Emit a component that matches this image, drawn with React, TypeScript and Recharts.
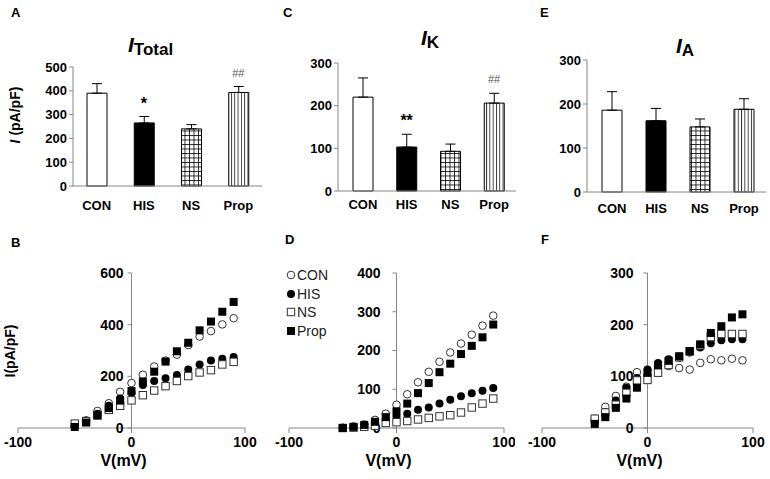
import React from 'react'
import {
  BarChart, Bar, XAxis, YAxis, ErrorBar, Cell, ReferenceDot,
  ScatterChart, Scatter, ReferenceLine, Legend,
} from 'recharts'

const FONT = '"Liberation Sans", Arial, sans-serif'
const AXIS = '#868686'

// bar panels (A, C, E)
const groups = ['CON', 'HIS', 'NS', 'Prop']
const totalMean = [390, 265, 240, 393]
const totalSem = [40, 27, 18, 25]
const totalSig = ['', '*', '', '##']
const kMean = [220, 103, 93, 206]
const kSem = [45, 30, 17, 23]
const kSig = ['', '**', '', '##']
const aMean = [186, 162, 148, 188]
const aSem = [42, 28, 18, 24]
const aSig = ['', '', '', '']

// I-V panels (B, D, F)
const voltage = [-50, -40, -30, -20, -10, 0, 10, 20, 30, 40, 50, 60, 70, 80, 90]
const bCon = [10, 30, 66, 96, 140, 174, 206, 238, 261, 284, 321, 354, 375, 401, 425]
const bHis = [7, 26, 55, 86, 114, 136, 166, 182, 193, 205, 226, 246, 261, 268, 275]
const bNs = [17, 26, 48, 70, 86, 107, 127, 145, 162, 182, 201, 215, 224, 246, 256]
const bProp = [4, 21, 50, 77, 106, 143, 180, 218, 257, 297, 330, 378, 412, 450, 488]
const dCon = [1, 4, 9, 21, 37, 60, 87, 118, 145, 171, 195, 218, 241, 264, 290]
const dHis = [0, 2, 6, 14, 24, 30, 37, 47, 53, 63, 73, 82, 90, 96, 103]
const dNs = [0, 1, 3, 6, 13, 15, 18, 22, 26, 30, 33, 40, 53, 63, 76]
const dProp = [0, 3, 8, 16, 28, 43, 63, 90, 116, 144, 166, 191, 212, 234, 267]
const fCon = [18, 41, 62, 80, 108, 103, 120, 120, 116, 113, 126, 133, 131, 134, 131]
const fHis = [10, 31, 53, 78, 97, 113, 126, 133, 136, 146, 156, 164, 170, 172, 172]
const fNs = [18, 30, 45, 68, 92, 93, 107, 122, 137, 148, 160, 176, 182, 182, 182]
const fProp = [8, 21, 39, 57, 78, 107, 122, 130, 139, 149, 162, 184, 197, 214, 220]

const markerKinds = ['circleOpen', 'circle', 'squareOpen', 'square']

function Marker({ cx, cy, kind }: { cx: number; cy: number; kind: string }) {
  if (kind === 'circleOpen') return <circle cx={cx} cy={cy} r={3.8} fill="#fff" stroke="#333" strokeWidth={1} />
  if (kind === 'circle') return <circle cx={cx} cy={cy} r={4} fill="#000" />
  if (kind === 'squareOpen') return <rect x={cx - 3.7} y={cy - 3.7} width={7.4} height={7.4} fill="#fff" stroke="#333" strokeWidth={1} />
  return <rect x={cx - 4} y={cy - 4} width={8} height={8} fill="#000" />
}

type BarProps = {
  id: string
  mean: number[]
  sem: number[]
  sig: string[]
  max: number
  ticks: number[]
  width: number
  yWidth: number
  top: number
  xHeight: number
  padLeft: number
  tickMargin: number
}

function BarPanel({ id, mean, sem, sig, max, ticks, width, yWidth, top, xHeight, padLeft, tickMargin }: BarProps) {
  const data = groups.map((g, i) => ({ g, mean: mean[i], err: [0, sem[i]], top: mean[i] + sem[i], sig: sig[i] }))
  const fills = ['#fff', '#000', `url(#${id}-grid)`, `url(#${id}-vert)`]
  return (
    <BarChart width={width} height={230} data={data} margin={{ top, right: 4, left: 0, bottom: 0 }}>
      <defs>
        <pattern id={`${id}-grid`} width={4.5} height={4.5} patternUnits="userSpaceOnUse">
          <rect width={4.5} height={4.5} fill="#fff" />
          <path d="M0 0.5H4.5M0.5 0V4.5" stroke="#000" strokeWidth={0.8} />
        </pattern>
        <pattern id={`${id}-vert`} width={3.3} height={10} patternUnits="userSpaceOnUse">
          <rect width={3.3} height={10} fill="#fff" />
          <path d="M0.5 0V10" stroke="#000" strokeWidth={0.8} />
        </pattern>
      </defs>
      <XAxis
        dataKey="g"
        tickLine={false}
        axisLine={{ stroke: AXIS }}
        height={xHeight}
        padding={{ left: padLeft, right: 0 }}
        tickMargin={tickMargin}
        tick={{ fill: '#000', fontSize: 13, fontWeight: 'bold', fontFamily: FONT }}
      />
      <YAxis
        domain={[0, max]}
        ticks={ticks}
        interval={0}
        width={yWidth}
        tickSize={4}
        axisLine={{ stroke: AXIS }}
        tickLine={{ stroke: AXIS }}
        tick={{ fill: '#000', fontSize: 13, fontWeight: 'bold', fontFamily: FONT }}
      />
      <Bar dataKey="mean" barSize={20} stroke="#000" strokeWidth={1} isAnimationActive={false}>
        {data.map((d, i) => (
          <Cell key={d.g} fill={fills[i]} />
        ))}
        <ErrorBar dataKey="err" width={5} stroke="#000" strokeWidth={1} isAnimationActive={false} />
      </Bar>
      {data
        .filter((d) => d.sig)
        .map((d) => (
          <ReferenceDot
            key={d.g}
            x={d.g}
            y={d.top}
            r={0}
            shape={(p: any) =>
              d.sig.startsWith('#') ? (
                <text x={p.cx} y={p.cy - 10} textAnchor="middle" fontSize={11} fill="#555" fontFamily={FONT}>
                  {d.sig}
                </text>
              ) : (
                <text x={p.cx} y={p.cy - 8} textAnchor="middle" fontSize={16} fontWeight="bold" fill="#000" fontFamily={FONT}>
                  {d.sig}
                </text>
              )
            }
          />
        ))}
    </BarChart>
  )
}

type IVProps = {
  series: number[][]
  yMax: number
  yTicks: number[]
  width: number
  left: number
  right: number
  gap: number
  legend?: boolean
}

function IVPanel({ series, yMax, yTicks, width, left, right, gap, legend }: IVProps) {
  return (
    <ScatterChart width={width} height={247} margin={{ top: 41, right, left, bottom: 0 }}>
      <XAxis
        type="number"
        dataKey="v"
        domain={[-100, 100]}
        ticks={[-100, 0, 100]}
        interval={0}
        height={51}
        tickSize={5}
        tickMargin={4}
        axisLine={{ stroke: AXIS }}
        tickLine={{ stroke: AXIS }}
        tick={{ fill: '#000', fontSize: 14, fontWeight: 'bold', fontFamily: FONT }}
        label={{
          content: ({ viewBox }: any) => (
            <text
              x={viewBox.x + viewBox.width / 2 - 8}
              y={viewBox.y + 38}
              textAnchor="middle"
              fontSize={16}
              fontWeight="bold"
              fill="#000"
              fontFamily={FONT}
            >
              V(mV)
            </text>
          ),
        }}
      />
      <YAxis type="number" dataKey="i" domain={[0, yMax]} hide width={0} />
      <ReferenceLine x={0} stroke={AXIS} />
      {yTicks.map((t) => (
        <ReferenceDot
          key={t}
          x={0}
          y={t}
          r={0}
          shape={(p: any) => (
            <g>
              <line x1={p.cx - 4} x2={p.cx} y1={p.cy} y2={p.cy} stroke={AXIS} />
              <text
                x={p.cx - gap}
                y={p.cy}
                dy="0.35em"
                textAnchor="end"
                fontSize={14}
                fontWeight="bold"
                fill="#000"
                fontFamily={FONT}
              >
                {t}
              </text>
            </g>
          )}
        />
      ))}
      {series.map((s, k) => (
        <Scatter
          key={groups[k]}
          name={groups[k]}
          data={voltage.map((v, j) => ({ v, i: s[j] }))}
          fill={k % 2 ? '#000' : '#fff'}
          isAnimationActive={false}
          shape={(p: any) => <Marker cx={p.cx} cy={p.cy} kind={markerKinds[k]} />}
        />
      ))}
      {legend && (
        <Legend
          layout="horizontal"
          verticalAlign="middle"
          align="center"
          wrapperStyle={{ left: 26, top: 34, width: 70 }}
          content={(props: any) => (
            <div style={{ fontFamily: FONT, fontSize: 14, color: '#222' }}>
              {(props.payload || []).map((e: any, i: number) => (
                <div key={e.value} style={{ display: 'flex', alignItems: 'center', height: 18.5 }}>
                  <svg width={10} height={10}>
                    <Marker cx={5} cy={5} kind={markerKinds[i]} />
                  </svg>
                  <span style={{ marginLeft: 1 }}>{e.value}</span>
                </div>
              ))}
            </div>
          )}
        />
      )}
    </ScatterChart>
  )
}

const abs = (left: number, top: number): React.CSSProperties => ({ position: 'absolute', left, top })

function Letter({ x, y, c }: { x: number; y: number; c: string }) {
  return (
    <div style={{ ...abs(x, y), fontFamily: FONT, fontWeight: 'bold', fontSize: 13, lineHeight: '13px' }}>{c}</div>
  )
}

function Title({ x, y, sub }: { x: number; y: number; sub: string }) {
  return (
    <div style={{ ...abs(x, y), fontFamily: FONT, fontWeight: 'bold', fontSize: 21, lineHeight: '21px', whiteSpace: 'nowrap' }}>
      <i>I</i>
      <span style={{ fontSize: 17, position: 'relative', top: 3 }}>{sub}</span>
    </div>
  )
}

function VLabel({ x, y, children }: { x: number; y: number; children: React.ReactNode }) {
  return (
    <div
      style={{
        ...abs(x, y),
        transform: 'translate(-50%, -50%) rotate(-90deg)',
        fontFamily: FONT,
        fontWeight: 'bold',
        fontSize: 14,
        whiteSpace: 'nowrap',
      }}
    >
      {children}
    </div>
  )
}

export default function App() {
  return (
    <div style={{ position: 'absolute', left: 0, top: 0, width: 770, height: 479, background: '#fff', overflow: 'hidden' }}>
      <div style={abs(0, 0)}>
        <BarPanel id="tot" mean={totalMean} sem={totalSem} sig={totalSig} max={500} ticks={[0, 100, 200, 300, 400, 500]}
          width={266} yWidth={73} top={67} xHeight={44} padLeft={0} tickMargin={9} />
      </div>
      <div style={abs(265, 0)}>
        <BarPanel id="ik" mean={kMean} sem={kSem} sig={kSig} max={300} ticks={[0, 100, 200, 300]}
          width={255} yWidth={73} top={63} xHeight={39} padLeft={3} tickMargin={3} />
      </div>
      <div style={abs(520, 0)}>
        <BarPanel id="ia" mean={aMean} sem={aSem} sig={aSig} max={300} ticks={[0, 100, 200, 300]}
          width={250} yWidth={67} top={60} xHeight={38} padLeft={3} tickMargin={6} />
      </div>

      <div style={abs(0, 232)}>
        <IVPanel series={[bCon, bHis, bNs, bProp]} yMax={600} yTicks={[0, 200, 400, 600]} width={260} left={18} right={15} gap={8} />
      </div>
      <div style={abs(260, 232)}>
        <IVPanel series={[dCon, dHis, dNs, dProp]} yMax={400} yTicks={[0, 100, 200, 300, 400]} width={255} left={29} right={11} gap={16} legend />
      </div>
      <div style={abs(515, 232)}>
        <IVPanel series={[fCon, fHis, fNs, fProp]} yMax={300} yTicks={[0, 100, 200, 300]} width={255} left={27} right={17} gap={14} />
      </div>

      <Letter x={11} y={6} c="A" />
      <Letter x={283} y={6} c="C" />
      <Letter x={540} y={6} c="E" />
      <Letter x={11} y={236} c="B" />
      <Letter x={285} y={233} c="D" />
      <Letter x={541} y={233} c="F" />

      <Title x={128} y={34} sub="Total" />
      <Title x={421} y={27} sub="K" />
      <Title x={676} y={35} sub="A" />

      <VLabel x={15} y={115}>
        <i>I</i> (pA/pF)
      </VLabel>
      <VLabel x={10} y={351}>I(pA/pF)</VLabel>
    </div>
  )
}
